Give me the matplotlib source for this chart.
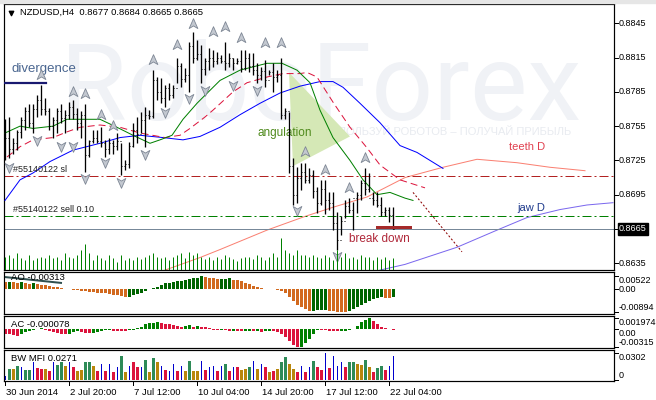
import numpy as np
import matplotlib.pyplot as plt
from matplotlib.path import Path
from matplotlib.patches import Polygon, Rectangle
from matplotlib.transforms import blended_transform_factory

plt.rcParams['font.family'] = ['Liberation Sans', 'DejaVu Sans']

# ===== Data: NZDUSD H4, 30 Jun - 22 Jul 2014 =====
highs = [0.8761, 0.8763, 0.8745, 0.8752, 0.8763, 0.8772, 0.8774, 0.8774, 0.8782, 0.8791,
         0.8780, 0.8771, 0.8763, 0.8771, 0.8774, 0.8769, 0.8776, 0.8778, 0.8771, 0.8768,
         0.8774, 0.8743, 0.8752, 0.8752, 0.8754, 0.8743, 0.8745, 0.8743, 0.8749, 0.8740,
         0.8725, 0.8741, 0.8758, 0.8763, 0.8767, 0.8772, 0.8769, 0.8804, 0.8798, 0.8797,
         0.8791, 0.8793, 0.8791, 0.8815, 0.8810, 0.8806, 0.8829, 0.8837, 0.8830, 0.8826,
         0.8815, 0.8823, 0.8822, 0.8820, 0.8817, 0.8829, 0.8819, 0.8815, 0.8815, 0.8822,
         0.8822, 0.8819, 0.8819, 0.8810, 0.8807, 0.8813, 0.8804, 0.8810, 0.8804, 0.8815,
         0.8771, 0.8767, 0.8727, 0.8719, 0.8723, 0.8723, 0.8718, 0.8717, 0.8702, 0.8708,
         0.8708, 0.8697, 0.8697, 0.8680, 0.8676, 0.8690, 0.8692, 0.8689, 0.8697, 0.8708,
         0.8718, 0.8714, 0.8697, 0.8697, 0.8693, 0.8684, 0.8684, 0.8684]
lows = [0.8725, 0.8727, 0.8731, 0.8734, 0.8745, 0.8752, 0.8754, 0.8749, 0.8763, 0.8765,
        0.8765, 0.8752, 0.8745, 0.8749, 0.8758, 0.8749, 0.8761, 0.8761, 0.8752, 0.8745,
        0.8715, 0.8728, 0.8740, 0.8740, 0.8737, 0.8728, 0.8731, 0.8731, 0.8734, 0.8712,
        0.8717, 0.8718, 0.8737, 0.8740, 0.8749, 0.8737, 0.8761, 0.8762, 0.8778, 0.8775,
        0.8772, 0.8778, 0.8780, 0.8793, 0.8789, 0.8794, 0.8785, 0.8810, 0.8813, 0.8793,
        0.8800, 0.8804, 0.8807, 0.8809, 0.8810, 0.8804, 0.8807, 0.8804, 0.8809, 0.8802,
        0.8804, 0.8802, 0.8800, 0.8793, 0.8795, 0.8789, 0.8800, 0.8785, 0.8794, 0.8761,
        0.8761, 0.8714, 0.8686, 0.8688, 0.8699, 0.8705, 0.8705, 0.8692, 0.8679, 0.8686,
        0.8678, 0.8682, 0.8664, 0.8647, 0.8660, 0.8675, 0.8679, 0.8664, 0.8679, 0.8690,
        0.8695, 0.8697, 0.8686, 0.8684, 0.8676, 0.8676, 0.8671, 0.8665]
closes = [0.8745, 0.8735, 0.8740, 0.8750, 0.8760, 0.8768, 0.8758, 0.8770, 0.8778, 0.8770,
          0.8768, 0.8755, 0.8760, 0.8768, 0.8762, 0.8765, 0.8772, 0.8766, 0.8758, 0.8765,
          0.8730, 0.8742, 0.8745, 0.8742, 0.8740, 0.8735, 0.8740, 0.8738, 0.8742, 0.8720,
          0.8722, 0.8738, 0.8752, 0.8748, 0.8760, 0.8765, 0.8764, 0.8795, 0.8785, 0.8780,
          0.8788, 0.8782, 0.8788, 0.8808, 0.8796, 0.8800, 0.8825, 0.8815, 0.8818, 0.8805,
          0.8812, 0.8815, 0.8812, 0.8815, 0.8812, 0.8810, 0.8815, 0.8810, 0.8812, 0.8806,
          0.8815, 0.8808, 0.8804, 0.8800, 0.8803, 0.8795, 0.8802, 0.8798, 0.8800, 0.8765,
          0.8768, 0.8720, 0.8695, 0.8710, 0.8715, 0.8708, 0.8712, 0.8698, 0.8688, 0.8700,
          0.8690, 0.8688, 0.8670, 0.8655, 0.8672, 0.8685, 0.8682, 0.8692, 0.8695, 0.8705,
          0.8700, 0.8692, 0.8690, 0.8686, 0.8680, 0.8682, 0.8677, 0.8665]
opens = [0.8750] + closes[:-1]

# tick volume of each bar
volumes = [1300, 1500, 1200, 1700, 1200, 1000, 1500, 1000, 1200, 1300,
           1200, 1500, 1200, 1300, 1000, 1700, 1300, 1200, 1500, 2000,
           2600, 1700, 1000, 1500, 1200, 1000, 1500, 1200, 800, 1500,
           1000, 1200, 1000, 1300, 1100, 1300, 1500, 1700, 1300, 1200,
           1300, 1000, 1300, 1500, 1700, 1200, 1800, 1500, 1700, 1300,
           1100, 1300, 1000, 1300, 1100, 1500, 1300, 1100, 900, 1200,
           1300, 1300, 1100, 1500, 1300, 1000, 1300, 1700, 1300, 3200,
           2000, 1700, 1500, 2000, 1500, 1500, 1300, 1500, 1300, 1200,
           1500, 1300, 1000, 2000, 1300, 1700, 1200, 1300, 1100, 1500,
           1300, 1300, 1000, 1300, 1100, 1300, 1000, 1200]

# H4 Alligator (bar position, price)
jaw_x = [0, 3.75, 7, 11.25, 17, 23.75, 28.75, 33.75, 39.5, 44.5, 48.75, 53.75, 58.75,
         63.75, 68.75, 73.75, 78.75, 82, 84.5, 88.75, 93.75, 98.75, 103, 109.5]
jaw_y = [0.8690, 0.8708, 0.8714, 0.8724, 0.8734, 0.8740, 0.8745, 0.8747, 0.8745, 0.8743,
         0.8746, 0.8754, 0.8765, 0.8775, 0.8784, 0.8790, 0.8794, 0.8794, 0.8789, 0.8775,
         0.8758, 0.8738, 0.8732, 0.8718]
teeth_x = [0.5, 3.75, 7, 12, 15.5, 18.75, 23.75, 28.75, 33.75, 40, 43.75, 46.25, 50, 52,
           57, 60.5, 65.5, 69.5, 73.75, 75.5, 78, 82, 86.25, 90.5, 93.75, 98.75, 105]
teeth_y = [0.8728, 0.8737, 0.8743, 0.8745, 0.8750, 0.8754, 0.8756, 0.8754, 0.8749, 0.8745,
           0.8747, 0.8753, 0.8763, 0.8769, 0.8785, 0.8793, 0.8798, 0.8801, 0.8801, 0.8802,
           0.8798, 0.8776, 0.8754, 0.8736, 0.8721, 0.8708, 0.8701]
lips_x = [0, 3.75, 7, 12, 15.5, 19.5, 23.75, 28, 32, 36.25, 38.75, 41.75, 44.5, 48, 50,
          53.75, 58.75, 65.5, 69.25, 73, 76.25, 78.75, 82, 86.25, 89.5, 93, 96.25, 100, 102]
lips_y = [0.8749, 0.8755, 0.8753, 0.8755, 0.8761, 0.8761, 0.8761, 0.8754, 0.8747, 0.8740,
          0.8743, 0.8747, 0.8761, 0.8775, 0.8782, 0.8795, 0.8804, 0.8810, 0.8810, 0.8804,
          0.8793, 0.8769, 0.8745, 0.8725, 0.8708, 0.8695, 0.8697, 0.8692, 0.8690]

# Daily Alligator
teeth_d_x = [40, 48.75, 53.75, 65.5, 75, 82, 90.5, 100, 109.5, 118, 128, 136.25, 145]
teeth_d_y = [0.8629, 0.8640, 0.8647, 0.8664, 0.8676, 0.8684, 0.8693, 0.8710, 0.8719,
             0.8726, 0.8723, 0.8719, 0.8716]
jaw_d_x = [93.75, 100, 113, 123, 130.5, 138.75, 145.5, 152]
jaw_d_y = [0.8629, 0.8634, 0.8649, 0.8664, 0.8675, 0.8682, 0.8686, 0.8688]

# fractals
up_frac_x = [9, 17, 20, 24, 27, 37, 43, 47, 52, 55, 59, 65, 69, 75, 80, 86, 90]
up_frac_y = [0.8800, 0.8785, 0.8783, 0.8765, 0.8755, 0.8813, 0.8826, 0.8844, 0.8837,
             0.8842, 0.8832, 0.8828, 0.8828, 0.8732, 0.8717, 0.8701, 0.8727]
dn_frac_x = [1, 8, 14, 17, 20, 25, 29, 35, 40, 46, 50, 57, 63, 73, 83]
dn_frac_y = [0.8719, 0.8743, 0.8738, 0.8738, 0.8710, 0.8724, 0.8706, 0.8731, 0.8767,
             0.8780, 0.8787, 0.8791, 0.8787, 0.8682, 0.8641]

# order levels
sl_level = 0.8711
sell_level = 0.8676
bid = 0.8665

# oscillators (x 1e-3 for AO/AC)
ao = [2.9, 3.0, 2.8, 2.6, 2.7, 2.4, 2.1, 2.3, 2.1, 1.8,
      1.6, 1.3, 1.0, 0.8, 0.5, 0.3, 0.05, -0.2, -0.35, -0.5,
      -0.75, -1.0, -1.15, -1.3, -1.45, -1.6, -1.85, -2.1, -2.4, -2.8,
      -3.0, -2.9, -2.4, -2.0, -1.3, -0.6, -0.05, 0.6, 1.0, 1.6,
      2.3, 2.6, 3.0, 3.3, 3.4, 3.7, 4.0, 4.3, 4.6, 5.22,
      4.9, 4.6, 4.3, 4.1, 4.15, 4.2, 4.25, 3.8, 3.5, 3.1,
      2.6, 2.2, 1.3, 0.8, 0.5, 0.3, 0.15, -0.05, -0.3, -0.6,
      -1.5, -3.0, -4.6, -6.0, -7.0, -7.7, -8.5, -8.4, -8.35, -8.3,
      -8.25, -8.4, -8.6, -8.75, -8.85, -8.94, -8.4, -7.7, -6.9, -6.1,
      -5.3, -4.6, -4.0, -3.5, -3.2, -3.35, -3.45, -3.13]
ac = [-0.77, -0.94, -1.06, -1.18, -0.77, -0.47, -0.24, -0.12, 0.0, 0.12,
      -0.12, -0.3, -0.47, -0.65, -0.83, -0.94, -0.77, -0.47, -0.35, -0.47,
      -0.59, -0.71, -0.65, -0.47, -0.3, -0.18, -0.12, -0.24, -0.3, -0.35,
      -0.41, -0.18, -0.06, 0.24, 0.47, 0.83, 1.06, 1.18, 1.2, 1.12,
      1.0, 0.83, 0.65, 0.53, 0.47, 0.59, 0.65, 0.47, 0.59, 0.47,
      0.35, 0.12, -0.06, -0.18, -0.12, -0.18, -0.3, -0.24, -0.3, -0.41,
      -0.35, -0.3, -0.41, -0.35, -0.47, -0.35, -0.3, -0.41, -0.5, -0.83,
      -1.35, -2.1, -2.8, -3.15, -3.1, -2.5, -1.8, -0.8, -0.1, -0.15,
      -0.2, -0.25, -0.3, -0.35, -0.3, -0.25, -0.1, 0.1, 0.6, 1.2,
      1.7, 1.974, 1.5, 0.9, 0.4, 0.15, 0.02, -0.078]
mfi = [4.8, 12.3, 12.3, 16.0, 14.2, 11.6, 11.6, 19.8, 13.1, 12.3,
       12.3, 10.4, 19.8, 16.8, 20.5, 15.3, 19.8, 14.2, 10.4, 11.2,
       20.5, 20.5, 16.0, 10.4, 17.9, 10.4, 17.9, 9.3, 14.2, 26.5,
       9.3, 16.0, 19.8, 14.2, 14.2, 22.4, 8.6, 24.2, 19.8, 16.0,
       11.6, 10.4, 17.9, 10.4, 16.0, 10.4, 20.9, 10.4, 10.4, 20.9,
       11.2, 14.2, 16.0, 10.4, 16.0, 17.9, 10.4, 14.2, 14.2, 11.2,
       12.3, 14.2, 20.9, 12.3, 17.9, 14.2, 8.6, 10.4, 12.3, 19.8,
       25.4, 17.9, 12.3, 9.3, 16.0, 9.3, 14.2, 21.6, 14.2, 11.6,
       30.2, 13.1, 27.2, 16.0, 19.8, 14.2, 19.8, 19.8, 17.9, 17.2,
       22.8, 14.2, 8.6, 13.1, 16.0, 11.6, 16.0, 27.1]
mfi_kind = list("bgkgbggbrrkrbggkbrkkggkrbrbrbgkbrrbgkgkbrbbrbkgkkbrbbrbgrbrkkgbkbrkrkggkkrbrbgrrbrbbbrggkkgkrggrbb")

tick_bars = [0, 16, 32, 48, 64, 80, 96]
tick_labels = ['30 Jun 2014', '2 Jul 20:00', '7 Jul 12:00', '10 Jul 04:00',
               '14 Jul 20:00', '17 Jul 12:00', '22 Jul 04:00']
price_ticks = [0.8845, 0.8815, 0.8785, 0.8755, 0.8725, 0.8695, 0.8635]

# ===== Figure =====
W, H = 656, 400
fig = plt.figure(figsize=(W / 100, H / 100), dpi=100)
PX = 0.72  # one pixel in points


def panel(x0, y0, x1, y1):
    a = fig.add_axes([x0 / W, 1 - y1 / H, (x1 - x0) / W, (y1 - y0) / H])
    a.set_xlim(-0.25, 152.25)
    a.set_xticks([])
    a.set_yticks([])
    for s in a.spines.values():
        s.set_linewidth(1.2 * PX)
        s.set_color('black')
    return a


def right_label(a, val, s, va='center', **kw):
    tr = blended_transform_factory(a.transAxes, a.transData)
    a.text(1.008, val, s, transform=tr, ha='left', va=va, fontsize=6.5, clip_on=False, **kw)
    a.plot([1.0, 1.006], [val, val], transform=tr, color='black', lw=PX, clip_on=False)


# window frame strip
fig.patches.append(Rectangle((0, 1 - 3 / H), 1, 3 / H, transform=fig.transFigure,
                             color='#e6e6e6', zorder=0))

ax = panel(4, 4, 614, 270)
ax.set_ylim(0.86291, 0.88619)
idx = np.arange(len(highs))

# watermark
ax.text(0.092, 0.564, 'RoboForex', transform=ax.transAxes, fontsize=78, color='#f0f2f6',
        family='Roboto', va='baseline', ha='left', zorder=0)
ax.text(0.522, 0.52, 'ИСПОЛЬЗУЙ РОБОТОВ – ПОЛУЧАЙ ПРИБЫЛЬ', transform=ax.transAxes,
        fontsize=8, color='#e8ebf0', va='center', ha='left', zorder=0)

# volumes along the bottom
axv = fig.add_axes(ax.get_position(), sharex=ax)
axv.set_ylim(0, 26600)
axv.axis('off')
axv.vlines(idx, 0, volumes, color='#008000', lw=PX)

# angulation area
ax.add_patch(Polygon([[71, 0.8802], [86.25, 0.8746], [72, 0.8720]], closed=True,
                     facecolor='#d5e8b6', edgecolor='none', zorder=1))

# daily alligator
ax.plot(teeth_d_x, teeth_d_y, color='#fa8072', lw=PX, zorder=2)
ax.plot(jaw_d_x, jaw_d_y, color='#7b68ee', lw=PX, zorder=2)

# H4 alligator
ax.plot(jaw_x, jaw_y, color='#0000ff', lw=PX, zorder=3)
ax.plot(teeth_x, teeth_y, color='#dc143c', lw=PX, dashes=(7, 4), zorder=3)
ax.plot(lips_x, lips_y, color='#008000', lw=PX, zorder=3)

# order lines and bid
ax.axhline(sl_level, color='#b22222', lw=PX, dashes=(9, 3, 2, 3), zorder=2)
ax.axhline(sell_level, color='#008000', lw=PX, dashes=(9, 3, 2, 3), zorder=2)
ax.axhline(bid, color='#778899', lw=PX, zorder=2)
ax.text(2, sl_level + 0.00025, '#55140122 sl', fontsize=6.5, color='#222222', va='bottom')
ax.text(2, sell_level + 0.00025, '#55140122 sell 0.10', fontsize=6.5, color='#222222', va='bottom')

# price bars
ax.vlines(idx, lows, highs, color='black', lw=1.3 * PX, zorder=4)
ax.hlines(opens, idx - 0.35, idx, color='black', lw=PX, zorder=4)
ax.hlines(closes, idx, idx + 0.35, color='black', lw=PX, zorder=4)

# fractal arrows
up_arrow = Path([(0, 1), (0.75, -0.7), (0, -0.25), (-0.75, -0.7), (0, 1)],
                [Path.MOVETO, Path.LINETO, Path.LINETO, Path.LINETO, Path.CLOSEPOLY])
dn_arrow = Path([(0, -1), (0.75, 0.7), (0, 0.25), (-0.75, 0.7), (0, -1)],
                [Path.MOVETO, Path.LINETO, Path.LINETO, Path.LINETO, Path.CLOSEPOLY])
ax.scatter(up_frac_x, up_frac_y, marker=up_arrow, s=70, facecolor='#c3c8d0',
           edgecolor='#7d8694', lw=0.6, zorder=5)
ax.scatter(dn_frac_x, dn_frac_y, marker=dn_arrow, s=70, facecolor='#c3c8d0',
           edgecolor='#7d8694', lw=0.6, zorder=5)

# analyst marks
ax.plot([-0.25, 10.25], [0.8793, 0.8793], color='#191970', lw=2.2 * PX, zorder=6)
ax.plot([93, 101.25], [0.8667, 0.8667], color='#a52a2a', lw=3 * PX, zorder=6)
ax.plot([102, 114.25], [0.8697, 0.8645], color='#8b0000', lw=PX, dashes=(2, 2), zorder=3)
ax.text(1.5, 0.8805, 'divergence', fontsize=9.5, color='#4a6690', va='center')
ax.text(63, 0.8749, 'angulation', fontsize=8.5, color='#4f8a1c', va='center')
ax.text(86, 0.8656, 'break down', fontsize=8.5, color='#b0283a', va='center')
ax.text(126, 0.8737, 'teeth D', fontsize=8, color='#e0404f', va='center')
ax.text(128, 0.8683, 'jaw D', fontsize=8, color='#1e3a8c', va='center')

# header
ax.text(0.026, 0.967, 'NZDUSD,H4  0.8677 0.8684 0.8665 0.8665', transform=ax.transAxes,
        fontsize=6.8, va='center', ha='left')
ax.scatter([0.012], [0.967], marker='v', s=10, color='black', transform=ax.transAxes)

# price scale
for p in price_ticks:
    right_label(ax, p, '%.4f' % p)
right_label(ax, bid, '0.8665', color='white',
            bbox=dict(boxstyle='square,pad=0.15', facecolor='black', edgecolor='black'))

# ===== AO =====
ax_ao = panel(4, 272, 614, 314)
ax_ao.set_ylim(-9.73, 6.79)
ao_col = ['#006400' if i > 0 and ao[i] > ao[i - 1] else '#d2691e' for i in range(len(ao))]
ax_ao.bar(idx, ao, width=0.75, color=ao_col, linewidth=0)
ax_ao.plot([0, 14], [4.8, 2.5], color='#2f4f4f', lw=2 * PX)
ax_ao.text(1.5, 4.5, 'AO -0.00313', fontsize=6.8, va='center')
right_label(ax_ao, 5.22, '0.00522', va='top')
right_label(ax_ao, 0, '0.00')
right_label(ax_ao, -8.94, '-0.00894', va='bottom')

# ===== AC =====
ax_ac = panel(4, 316, 614, 348)
ax_ac.set_ylim(-3.33, 2.33)
ac_col = ['#008000' if i > 0 and ac[i] > ac[i - 1] else '#dc143c' for i in range(len(ac))]
ax_ac.bar(idx, ac, width=0.75, color=ac_col, linewidth=0)
ax_ac.text(1.5, 0.9, 'AC -0.000078', fontsize=6.8, va='center')
right_label(ax_ac, 1.974, '0.001974', va='top')
right_label(ax_ac, 0, '0.00', va='top')
right_label(ax_ac, -3.15, '-0.00315', va='bottom')

# ===== BW MFI =====
ax_mf = panel(4, 350, 614, 381)
ax_mf.set_ylim(-1.12, 33.6)
mfi_colors = {'g': '#2e8b57', 'k': '#b8860b', 'r': '#dc143c', 'b': '#0000cd'}
for kind in 'gkrb':
    sel = [i for i in idx if mfi_kind[i] == kind]
    w = 0.25 if kind == 'b' else 0.75
    ax_mf.bar(sel, [mfi[i] for i in sel], width=w, color=mfi_colors[kind], linewidth=0)
ax_mf.text(1.5, 24, 'BW MFI 0.0271', fontsize=6.8, va='center')
right_label(ax_mf, 30.2, '0.0302', va='top')
right_label(ax_mf, 0, '0', va='bottom')

# date axis
tr = blended_transform_factory(ax_mf.transData, ax_mf.transAxes)
for b, lab in zip(tick_bars, tick_labels):
    ax_mf.plot([b, b], [0, -0.12], transform=tr, color='black', lw=PX, clip_on=False)
    ax_mf.text(b + 0.3, -0.22, lab, transform=tr, fontsize=6.8, va='top', ha='left')

plt.savefig('out.png', dpi=100)
